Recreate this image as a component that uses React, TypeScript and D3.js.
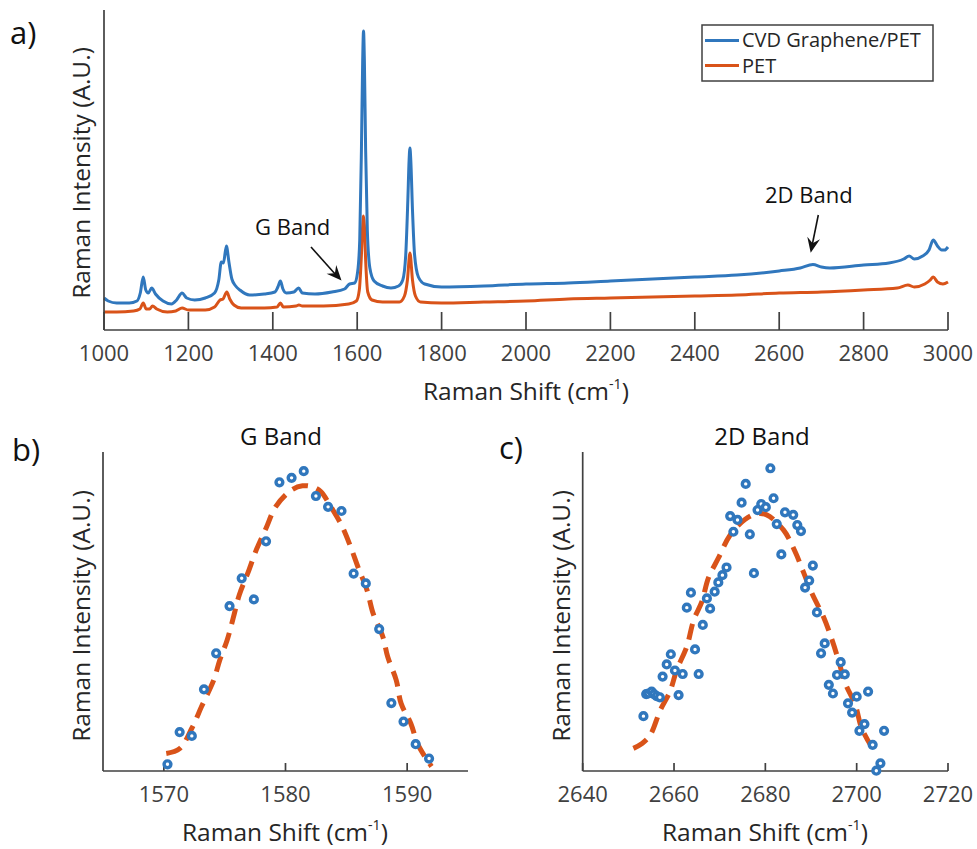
import React from "react";
import * as d3 from "d3";

// ---------- Panel a: full spectra (Raman shift, intensity A.U.) ----------
const grapheneShift = [1000,1010,1030,1060,1078,1086,1093,1099,1105,1113,1122,1140,1160,1172,1185,1196,1215,1240,1262,1272,1278,1283,1290,1296,1303,1312,1322,1345,1380,1405,1412,1418,1424,1432,1450,1461,1470,1500,1540,1570,1582,1594,1601,1606,1610,1613,1615,1617,1620,1624,1630,1640,1660,1680,1698,1708,1715,1720,1723,1725,1727,1731,1736,1745,1760,1800,1900,2000,2100,2200,2300,2400,2500,2600,2650,2680,2700,2720,2800,2860,2895,2908,2920,2940,2955,2965,2975,2985,2992,3000];
const grapheneIntensity = [32,29,27,27,29,37,53,40,37,42,36,29,26,30,37,32,30,32,37,50,68,67,84,68,51,44,40,35,36,38,43,49,41,37,38,42,37,36,38,41,46,47,58,90,180,270,299,270,180,100,62,49,44,42,44,50,75,130,170,182,170,120,75,53,46,43,44,46,47,49,51,53,55,59,62,65.5,63,62,65,67,71,74,71,74,80,90,84,80,80,83];

const petShift = [1000,1030,1070,1085,1093,1100,1108,1115,1125,1150,1170,1185,1200,1240,1262,1275,1282,1291,1298,1308,1325,1380,1410,1418,1425,1455,1462,1470,1520,1580,1598,1605,1610,1613,1615,1617,1620,1625,1635,1660,1700,1712,1719,1725,1731,1738,1750,1800,1900,2000,2100,2200,2300,2400,2500,2600,2700,2800,2880,2905,2920,2945,2958,2965,2975,2988,3000];
const petIntensity = [18,18,19,21,27,21,21,24,21,18,19,22,20,20,23,30,31,38,31,25,22,22,23,27,23,24,25,24,24,26,29,40,75,105,114,105,70,38,30,28,28,34,50,77,50,34,28,27,28,29,31,32,33,34,35,37,38,40,42,45,43,46,50,53,48,46,48];

const ticksA = [1000,1200,1400,1600,1800,2000,2200,2400,2600,2800,3000];

// ---------- Panel b: G band ----------
const gShift = [1570.3,1571.3,1572.3,1573.3,1574.3,1575.4,1576.4,1577.4,1578.4,1579.5,1580.5,1581.5,1582.5,1583.5,1584.6,1585.6,1586.6,1587.7,1588.7,1589.7,1590.7,1591.8];
const gIntensity = [2.1,12.2,11.0,25.6,36.9,51.7,60.4,53.8,72.0,90.5,91.9,94.0,86.2,82.8,81.5,61.9,58.8,44.5,21.3,15.5,8.4,3.9];
const gFitShift = [1570.2,1571.3,1572.3,1573.1,1574.1,1574.6,1575.2,1575.7,1576.2,1576.9,1577.6,1578.4,1579.2,1580.5,1581.4,1582.2,1582.9,1583.7,1584.6,1585.3,1586.0,1586.7,1587.2,1588.0,1588.4,1589.1,1589.5,1590.3,1590.9,1592.0];
const gFitIntensity = [5.5,7.0,13.4,20.2,28.5,34.8,41.0,47.9,55.2,62.0,69.3,76.1,82.9,88.1,89.4,89.1,87.6,83.0,77.1,70.8,63.5,56.7,49.4,42.1,35.8,28.5,21.2,14.9,8.2,1.4];
const ticksB = [1570,1580,1590];

// ---------- Panel c: 2D band ----------
const dShift = [2653.3,2653.9,2654.4,2655.1,2655.6,2656.2,2656.9,2657.5,2658.4,2659.3,2660.2,2661.0,2661.9,2662.8,2663.7,2664.6,2665.4,2666.3,2667.2,2667.9,2668.9,2669.7,2670.6,2671.5,2672.3,2673.0,2673.9,2674.8,2675.7,2676.6,2677.5,2678.3,2679.1,2680.1,2681.1,2681.8,2682.5,2683.5,2684.3,2686.1,2687.0,2687.8,2688.7,2689.6,2690.4,2691.3,2692.2,2693.0,2693.9,2694.8,2695.7,2696.5,2697.4,2698.1,2699.0,2700.0,2700.6,2701.7,2702.5,2703.5,2704.3,2705.2,2706.0];
const dIntensity = [17.2,24.1,24.3,24.9,24.1,23.5,23.1,29.6,33.4,36.6,31.5,23.8,30.4,51.2,55.9,38.1,30.4,45.8,54.1,50.9,56.2,59.1,61.4,63.8,79.9,75.0,78.7,84.1,90.0,74.2,62.0,81.8,83.7,82.7,94.9,85.5,77.4,67.9,81.1,80.3,77.1,75.2,57.5,59.7,64.4,49.7,36.9,40.0,27.0,24.3,30.1,34.1,30.3,21.2,18.3,23.3,12.6,14.7,24.9,8.2,0.1,2.4,12.6];
const dFitShift = [2651.1,2653.0,2654.8,2657.0,2659.1,2660.6,2662.8,2664.3,2666.1,2667.5,2669.7,2672.3,2675.6,2678.0,2680.3,2684.0,2686.5,2688.3,2690.2,2692.7,2694.6,2696.0,2697.5,2699.7,2701.1,2703.7];
const dFitIntensity = [7.1,8.6,11.3,19.1,24.9,31.7,39.0,47.3,53.1,60.4,66.7,74.0,78.9,80.6,80.3,75.5,68.8,62.5,55.7,48.4,41.1,34.8,27.5,20.7,13.4,6.6];
const ticksC = [2640,2660,2680,2700,2720];

const BLUE = "#3077BD";
const ORANGE = "#D95319";
const AXIS = "#404040";
const TEXT = "#262626";
const FONT = "'Open Sans', sans-serif";

type XY = [number, number];
const zip = (a: number[], b: number[]): XY[] => a.map((v, i) => [v, b[i]]);

function XLabel({ x, y, size }: { x: number; y: number; size: number }) {
  return (
    <text x={x} y={y} textAnchor="middle" fontSize={size} fill={TEXT} fontFamily={FONT}>
      Raman Shift (cm
      <tspan fontSize={size * 0.58} dy={-size * 0.45}>-1</tspan>
      <tspan dy={size * 0.45}>)</tspan>
    </text>
  );
}

function YLabel({ x, y, size }: { x: number; y: number; size: number }) {
  return (
    <text transform={`translate(${x},${y}) rotate(-90)`} textAnchor="middle" fontSize={size} fill={TEXT} fontFamily={FONT}>
      Raman Intensity (A.U.)
    </text>
  );
}

function Axes({ x, y, ticks, tickLen, labelY, fontSize }: { x: d3.ScaleLinear<number, number>; y: d3.ScaleLinear<number, number>; ticks: number[]; tickLen: number; labelY: number; fontSize: number }) {
  const [x0, x1] = x.range();
  const [y0, y1] = y.range();
  return (
    <g>
      <line x1={x0} x2={x1} y1={y0} y2={y0} stroke={AXIS} strokeWidth={1.7} />
      <line x1={x0} x2={x0} y1={y0} y2={y1} stroke={AXIS} strokeWidth={1.7} />
      {ticks.map((t) => (
        <g key={t}>
          <line x1={x(t)} x2={x(t)} y1={y0} y2={y0 - tickLen} stroke={AXIS} strokeWidth={1.7} />
          <text x={x(t)} y={labelY} textAnchor="middle" fontSize={fontSize} fill={AXIS} fontFamily={FONT}>
            {t}
          </text>
        </g>
      ))}
    </g>
  );
}

export default function App() {
  // panel a
  const xa = d3.scaleLinear().domain([1000, 3000]).range([104, 948]);
  const ya = d3.scaleLinear().domain([0, 320]).range([330, 10]);
  const lineA = d3.line<XY>().x((d) => xa(d[0])).y((d) => ya(d[1])).curve(d3.curveMonotoneX);

  // panel b
  const xb = d3.scaleLinear().domain([1565, 1595]).range([103, 468]);
  const yb = d3.scaleLinear().domain([0, 100]).range([771, 452]);
  const lineB = d3.line<XY>().x((d) => xb(d[0])).y((d) => yb(d[1])).curve(d3.curveCatmullRom);

  // panel c
  const xc = d3.scaleLinear().domain([2640, 2720]).range([582.7, 948]);
  const yc = d3.scaleLinear().domain([0, 100]).range([771, 452]);
  const lineC = d3.line<XY>().x((d) => xc(d[0])).y((d) => yc(d[1])).curve(d3.curveCatmullRom);

  const blueData = zip(grapheneShift, grapheneIntensity);
  const petData = zip(petShift, petIntensity);

  const arrowHead = (x1: number, y1: number, x2: number, y2: number) => {
    const ang = Math.atan2(y2 - y1, x2 - x1);
    const L = 15, W = 6.5;
    const bx = x2 - L * Math.cos(ang), by = y2 - L * Math.sin(ang);
    const px = -Math.sin(ang) * W, py = Math.cos(ang) * W;
    return `M${x2},${y2}L${bx + px},${by + py}L${bx + 0.35 * L * Math.cos(ang)},${by + 0.35 * L * Math.sin(ang)}L${bx - px},${by - py}Z`;
  };

  return (
    <svg width={977} height={849} style={{ position: "absolute", left: 0, top: 0, background: "#fff" }} fontFamily={FONT}>
      <rect width={977} height={849} fill="#fff" />
      {/* ---------- Panel a ---------- */}
      <text x={10} y={44} fontSize={31} fill="#111" fontFamily={FONT}>a)</text>
      <path d={lineA(petData) || ""} fill="none" stroke={ORANGE} strokeWidth={3} strokeLinejoin="round" />
      <path d={lineA(blueData) || ""} fill="none" stroke={BLUE} strokeWidth={3} strokeLinejoin="round" />
      <Axes x={xa} y={ya} ticks={ticksA} tickLen={18} labelY={361} fontSize={22} />
      <XLabel x={526} y={400} size={24.5} />
      <YLabel x={90} y={173} size={24.5} />

      {/* annotations */}
      <text x={255} y={235} fontSize={22} fill="#111" fontFamily={FONT}>G Band</text>
      <line x1={311} y1={247} x2={336} y2={275} stroke="#111" strokeWidth={1.6} />
      <path d={arrowHead(311, 247, 341.5, 280.5)} fill="#111" />
      <text x={765} y={203} fontSize={22} fill="#111" fontFamily={FONT}>2D Band</text>
      <line x1={818.3} y1={215} x2={812} y2={246} stroke="#111" strokeWidth={1.6} />
      <path d={arrowHead(818.3, 215, 810.7, 252.7)} fill="#111" />

      {/* legend */}
      <rect x={702} y={25} width={231} height={56} fill="#fff" stroke={AXIS} strokeWidth={1.5} />
      <line x1={705} x2={739} y1={40.5} y2={40.5} stroke={BLUE} strokeWidth={3} />
      <line x1={705} x2={739} y1={65.5} y2={65.5} stroke={ORANGE} strokeWidth={3} />
      <text x={742} y={47} fontSize={20} fill={TEXT} fontFamily={FONT}>CVD Graphene/PET</text>
      <text x={742} y={73} fontSize={20} fill={TEXT} fontFamily={FONT}>PET</text>

      {/* ---------- Panel b ---------- */}
      <text x={12} y={461} fontSize={31} fill="#111" fontFamily={FONT}>b)</text>
      <text x={281} y={445} textAnchor="middle" fontSize={24} fill="#111" fontFamily={FONT}>G Band</text>
      <Axes x={xb} y={yb} ticks={ticksB} tickLen={8} labelY={802} fontSize={22} />
      <path d={lineB(zip(gFitShift, gFitIntensity)) || ""} fill="none" stroke={ORANGE} strokeWidth={5} strokeDasharray="16 9" />
      {gShift.map((s, i) => (
        <circle key={i} cx={xb(s)} cy={yb(gIntensity[i])} r={3.4} fill="#fff" stroke={BLUE} strokeWidth={3.4} />
      ))}
      <XLabel x={285} y={841} size={24.5} />
      <YLabel x={90} y={616} size={24.5} />

      {/* ---------- Panel c ---------- */}
      <text x={499} y={459} fontSize={31} fill="#111" fontFamily={FONT}>c)</text>
      <text x={762} y={445} textAnchor="middle" fontSize={24} fill="#111" fontFamily={FONT}>2D Band</text>
      <Axes x={xc} y={yc} ticks={ticksC} tickLen={8} labelY={802} fontSize={22} />
      <path d={lineC(zip(dFitShift, dFitIntensity)) || ""} fill="none" stroke={ORANGE} strokeWidth={5} strokeDasharray="16 9" />
      {dShift.map((s, i) => (
        <circle key={i} cx={xc(s)} cy={yc(dIntensity[i])} r={3.4} fill="#fff" stroke={BLUE} strokeWidth={3.4} />
      ))}
      <XLabel x={765} y={841} size={24.5} />
      <YLabel x={570} y={616} size={24.5} />
    </svg>
  );
}
